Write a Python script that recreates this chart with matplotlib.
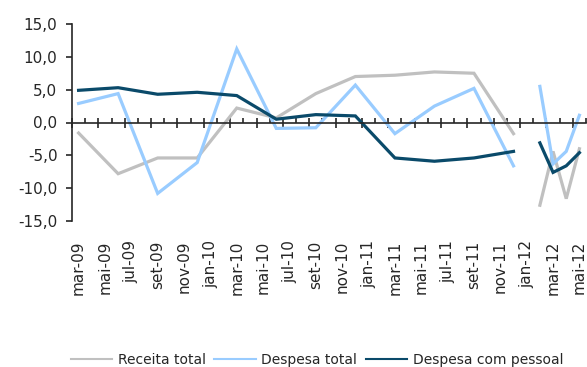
import numpy as np
import matplotlib
matplotlib.use("Agg")
import matplotlib.pyplot as plt
from matplotlib.ticker import FixedLocator, FuncFormatter

# eixo mensal de mar-09 a mai-12
meses = [
    "mar-09", "abr-09", "mai-09", "jun-09", "jul-09", "ago-09", "set-09", "out-09", "nov-09", "dez-09",
    "jan-10", "fev-10", "mar-10", "abr-10", "mai-10", "jun-10", "jul-10", "ago-10", "set-10", "out-10",
    "nov-10", "dez-10", "jan-11", "fev-11", "mar-11", "abr-11", "mai-11", "jun-11", "jul-11", "ago-11",
    "set-11", "out-11", "nov-11", "dez-11", "jan-12", "fev-12", "mar-12", "abr-12", "mai-12",
]
rotulos = meses[::2]

# dados trimestrais
trimestres = ["mar-09", "jun-09", "set-09", "dez-09", "mar-10", "jun-10",
              "set-10", "dez-10", "mar-11", "jun-11", "set-11", "dez-11"]
receita_trim = [-1.6, -7.8, -5.4, -5.4, 2.2, 0.7, 4.4, 7.0, 7.2, 7.7, 7.5, -1.7]
despesa_trim = [2.9, 4.4, -10.8, -6.1, 11.2, -0.9, -0.8, 5.7, -1.7, 2.5, 5.2, -6.6]
pessoal_trim = [4.9, 5.3, 4.3, 4.6, 4.1, 0.5, 1.2, 1.0, -5.4, -5.9, -5.4, -4.4]

# dados mensais de 2012
mensal = ["fev-12", "mar-12", "abr-12", "mai-12"]
receita_mes = [-12.6, -4.4, -11.6, -4.0]
despesa_mes = [5.5, -6.3, -4.4, 1.1]
pessoal_mes = [-3.1, -7.6, -6.6, -4.6]

series = [
    ("Receita total", receita_trim, receita_mes, "#c0c0c0"),
    ("Despesa total", despesa_trim, despesa_mes, "#99ccff"),
    ("Despesa com pessoal", pessoal_trim, pessoal_mes, "#0a4a6a"),
]

cor_texto = "#262626"
plt.rcParams.update({
    "font.family": "DejaVu Sans",
    "font.size": 11,
    "text.color": cor_texto,
    "axes.edgecolor": cor_texto,
    "xtick.color": cor_texto,
    "ytick.color": cor_texto,
})

fig = plt.figure(figsize=(5.87, 3.67), dpi=100)
ax = fig.add_axes([72 / 587, 1 - 221 / 367, (586 - 72) / 587, (221 - 24) / 367])

xt = [meses.index(m) for m in trimestres]
xm = [meses.index(m) for m in mensal]
for nome, vt, vm, cor in series:
    ax.plot(xt, vt, color=cor, lw=2.3, label=nome, solid_joinstyle="miter")
    ax.plot(xm, vm, color=cor, lw=2.3, solid_joinstyle="miter")

ax.set_xlim(-0.5, len(meses) - 0.5)
ax.set_ylim(-15, 15)
ax.set_yticks(np.arange(-15, 16, 5))
ax.yaxis.set_major_formatter(FuncFormatter(lambda v, p: f"{v:.1f}".replace(".", ",")))
ax.tick_params(axis="y", direction="out", length=4.5, width=1.2, pad=6, labelsize=11)

for s in ["top", "right"]:
    ax.spines[s].set_visible(False)
ax.spines["left"].set_linewidth(1.2)
ax.spines["bottom"].set_position(("data", 0))
ax.spines["bottom"].set_linewidth(1.2)

limites = np.arange(len(meses) + 1) - 0.5
ax.xaxis.set_major_locator(FixedLocator(limites[::2]))
ax.xaxis.set_minor_locator(FixedLocator(limites[1::2]))
ax.tick_params(axis="x", which="major", direction="inout", length=7, width=1.2, labelbottom=False)
ax.tick_params(axis="x", which="minor", direction="in", length=3.5, width=1.2)

for i, r in enumerate(rotulos):
    ax.annotate(r, xy=(meses.index(r), 0), xycoords=("data", "axes fraction"),
                xytext=(0, -14), textcoords="offset points",
                rotation=90, ha="center", va="top", fontsize=11, annotation_clip=False)

leg = fig.legend(loc="center", bbox_to_anchor=(317 / 587, 7 / 367), ncol=3, frameon=False,
                 fontsize=10, handlelength=3.0, handletextpad=0.4, columnspacing=0.6)
for ln in leg.get_lines():
    ln.set_linewidth(1.5)

fig.savefig("out.png", dpi=100)
